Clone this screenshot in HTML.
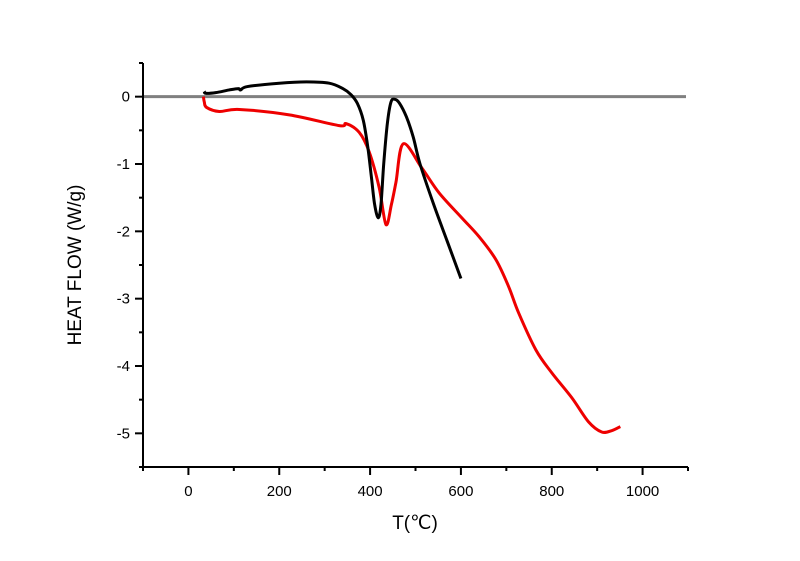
<!DOCTYPE html>
<html><head><meta charset="utf-8"><style>
body{margin:0;background:#fff;}
svg{display:block;font-family:"Liberation Sans",Arial,sans-serif;}
</style></head><body>
<svg id="chart" width="800" height="561"></svg>
<script>
const blackT=[35,38,60,90,110,115,130,200,260,310,340,358,372,385,395,403,410,418,424,430,438,446,455,465,480,495,510,540,570,600];
const blackV=[0.08,0.05,0.06,0.1,0.12,0.1,0.15,0.2,0.22,0.2,0.12,0.03,-0.1,-0.35,-0.75,-1.2,-1.6,-1.8,-1.6,-1.0,-0.4,-0.08,-0.04,-0.1,-0.3,-0.6,-1.0,-1.6,-2.15,-2.7];
const redT=[33,35,40,68,112,222,332,347,376,398,420,435,447,457,473,514,552,602,640,677,705,727,765,800,844,881,910,932,951];
const redV=[0,-0.08,-0.16,-0.22,-0.19,-0.27,-0.43,-0.4,-0.53,-0.82,-1.35,-1.9,-1.6,-1.27,-0.7,-1.06,-1.43,-1.8,-2.08,-2.42,-2.82,-3.21,-3.76,-4.1,-4.47,-4.83,-4.98,-4.96,-4.9];
const xTicks=[0,200,400,600,800,1000];
const yTicks=[0,-1,-2,-3,-4,-5];
const svg=document.getElementById('chart');
const NS='http://www.w3.org/2000/svg';
const L=143,R=688,T=63,B=467;
const xMin=-100,xMax=1100,yMin=-5.5,yMax=0.5;
const X=v=>L+(v-xMin)/(xMax-xMin)*(R-L);
const Y=v=>B-(v-yMin)/(yMax-yMin)*(B-T);
function mk(tag,attrs,parent){const e=document.createElementNS(NS,tag);for(const k in attrs)e.setAttribute(k,attrs[k]);(parent||svg).appendChild(e);return e;}
function smooth(pts){
  let d='M'+pts[0][0]+','+pts[0][1];
  for(let i=0;i<pts.length-1;i++){
    const p0=pts[i-1]||pts[i],p1=pts[i],p2=pts[i+1],p3=pts[i+2]||p2;
    const c1=[p1[0]+(p2[0]-p0[0])/6,p1[1]+(p2[1]-p0[1])/6];
    const c2=[p2[0]-(p3[0]-p1[0])/6,p2[1]-(p3[1]-p1[1])/6];
    d+=`C${c1[0]},${c1[1]} ${c2[0]},${c2[1]} ${p2[0]},${p2[1]}`;
  }
  return d;
}
let z=mk('line',{x1:L,x2:R-2,y1:Y(0),y2:Y(0),stroke:'#808080','stroke-width':3});


function series(ts,vs,color,name){
  const p=mk('path',{d:smooth(ts.map((t,i)=>[X(t),Y(vs[i])])),fill:'none',stroke:color,'stroke-width':3,'stroke-linejoin':'round'});
  
  
}
series(redT,redV,'#ee0000','red-series');
series(blackT,blackV,'#000','black-series');
let ax=mk('path',{d:`M${L},${T}V${B}H${R}`,fill:'none',stroke:'#000','stroke-width':2});


for(let v=-100;v<=1100;v+=100){
  const major=v%200===0;
  mk('line',{x1:X(v),x2:X(v),y1:B,y2:B+(major?8:4),stroke:'#000','stroke-width':2});
}
xTicks.forEach(v=>{
  const t=mk('text',{x:X(v),y:B+29,'text-anchor':'middle','font-size':15});
  t.textContent=v;
  
  
});
for(let v=-5.5;v<=0.5;v+=0.5){
  const major=Math.abs(v-Math.round(v))<1e-6;
  mk('line',{x1:L,x2:L-(major?8:4),y1:Y(v),y2:Y(v),stroke:'#000','stroke-width':2});
}
yTicks.forEach(v=>{
  const t=mk('text',{x:L-13,y:Y(v)+5,'text-anchor':'end','font-size':15});
  t.textContent=v;
  
  
});
let xt=mk('text',{x:415,y:529,'text-anchor':'middle','font-size':19});
xt.textContent='T(℃)';


let yt=mk('text',{x:0,y:0,'text-anchor':'middle','font-size':19,transform:'translate(81,265) rotate(-90)'});
yt.textContent='HEAT FLOW (W/g)';


</script>
</body></html>
